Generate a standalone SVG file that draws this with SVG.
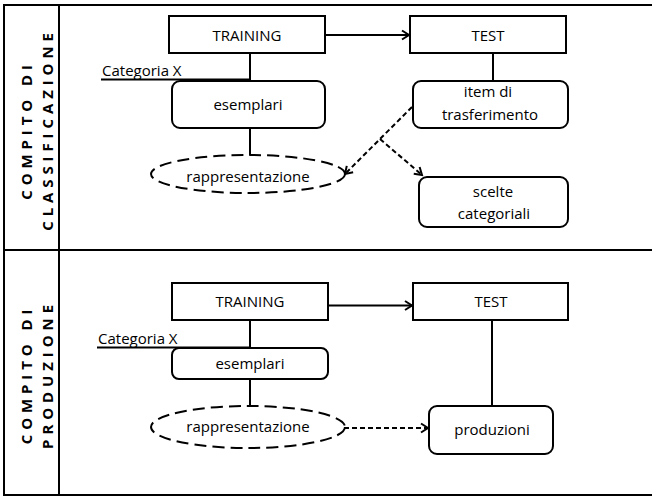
<svg xmlns="http://www.w3.org/2000/svg" width="652" height="497" viewBox="0 0 652 497">
  <style>
    .frame { stroke: #000; stroke-width: 2; fill: none; }
    .box { fill: #fff; stroke: #000; stroke-width: 2; }
    .ell { fill: #fff; stroke: #000; stroke-width: 2; stroke-dasharray: 12 6; }
    .t { font-family: "Open Sans", "Liberation Sans", sans-serif; font-size: 15px; fill: #000; text-anchor: middle; }
    .lab { font-family: "Open Sans", "Liberation Sans", sans-serif; font-size: 15px; fill: #000; }
    .side { font-family: "Open Sans", "Liberation Sans", sans-serif; font-size: 15px; font-weight: bold; letter-spacing: 4.9px; fill: #000; text-anchor: middle; }
    .ln { stroke: #000; stroke-width: 2; fill: none; }
    .dash { stroke: #000; stroke-width: 2; fill: none; stroke-dasharray: 5 3; }
  </style>
  <defs>
    <marker id="arr" markerUnits="userSpaceOnUse" markerWidth="12" markerHeight="12" viewBox="0 0 12 12" refX="10" refY="6" orient="auto">
      <path d="M3,1.5 L10,6 L3,10.5" fill="none" stroke="#000" stroke-width="2"/>
    </marker>
  </defs>
  <rect width="652" height="497" fill="#fff"/>
  <g id="frame">
    <line class="frame" x1="4" y1="5" x2="652" y2="5" stroke-width="3"/>
    <line class="frame" x1="4" y1="4" x2="4" y2="496"/>
    <line class="frame" x1="4" y1="495" x2="652" y2="495"/>
    <line class="frame" x1="4" y1="250" x2="652" y2="250"/>
    <line class="frame" x1="59" y1="5" x2="59" y2="495"/>
  </g>
  <g id="side-labels">
    <text class="side" transform="translate(32,130) rotate(-90)">COMPITO DI</text>
    <text class="side" transform="translate(53,129.5) rotate(-90)">CLASSIFICAZIONE</text>
    <text class="side" transform="translate(32,374.5) rotate(-90)">COMPITO DI</text>
    <text class="side" transform="translate(53,374.5) rotate(-90)">PRODUZIONE</text>
  </g>
  <g id="connectors">
    <line class="ln" x1="325" y1="35" x2="409" y2="35" marker-end="url(#arr)"/>
    <line class="ln" x1="250" y1="53" x2="250" y2="81"/>
    <line class="ln" x1="250" y1="128" x2="250" y2="155"/>
    <line class="ln" x1="493" y1="53" x2="493" y2="81"/>
    <line class="dash" x1="412" y1="107" x2="345" y2="174" marker-end="url(#arr)"/>
    <line class="dash" x1="380" y1="139" x2="422" y2="175" marker-end="url(#arr)"/>
    <line class="ln" x1="328" y1="305.5" x2="412" y2="305.5" marker-end="url(#arr)"/>
    <line class="ln" x1="250" y1="320" x2="250" y2="348"/>
    <line class="ln" x1="250" y1="379" x2="250" y2="406"/>
    <line class="ln" x1="492" y1="320" x2="492" y2="406"/>
    <line class="dash" x1="344" y1="428" x2="428" y2="428" marker-end="url(#arr)"/>
  </g>
  <g id="training1">
    <rect class="box" x="169" y="16" width="156" height="37"/>
    <text class="t" x="247" y="41">TRAINING</text>
  </g>
  <g id="test1">
    <rect class="box" x="410" y="16" width="156" height="37"/>
    <text class="t" x="488" y="41">TEST</text>
  </g>
  <g id="categoria1">
    <text class="lab" x="102" y="76">Categoria X</text>
    <line class="ln" x1="101" y1="79.5" x2="250" y2="79.5" stroke-width="1.2"/>
  </g>
  <g id="esemplari1">
    <rect class="box" x="172" y="81" width="153" height="47" rx="8"/>
    <text class="t" x="248" y="110">esemplari</text>
  </g>
  <g id="rappresentazione1">
    <ellipse class="ell" cx="248" cy="174" rx="97" ry="19"/>
    <text class="t" x="248" y="182">rappresentazione</text>
  </g>
  <g id="item1">
    <rect class="box" x="413" y="81" width="155" height="47" rx="8"/>
    <text class="t" x="488" y="97">item di</text>
    <text class="t" x="490" y="120">trasferimento</text>
  </g>
  <g id="scelte1">
    <rect class="box" x="419" y="177" width="149" height="50" rx="8"/>
    <text class="t" x="493" y="197">scelte</text>
    <text class="t" x="494" y="219">categoriali</text>
  </g>
  <g id="training2">
    <rect class="box" x="172" y="283" width="156" height="37"/>
    <text class="t" x="250" y="307">TRAINING</text>
  </g>
  <g id="test2">
    <rect class="box" x="413" y="283" width="155" height="37"/>
    <text class="t" x="491" y="307">TEST</text>
  </g>
  <g id="categoria2">
    <text class="lab" x="98" y="344">Categoria X</text>
    <line class="ln" x1="97" y1="347.5" x2="250" y2="347.5" stroke-width="1.2"/>
  </g>
  <g id="esemplari2">
    <rect class="box" x="172" y="348" width="156" height="31" rx="7"/>
    <text class="t" x="250" y="369">esemplari</text>
  </g>
  <g id="rappresentazione2">
    <ellipse class="ell" cx="248" cy="427" rx="97" ry="21"/>
    <text class="t" x="248" y="432">rappresentazione</text>
  </g>
  <g id="produzioni2">
    <rect class="box" x="429" y="406" width="124" height="48" rx="8"/>
    <text class="t" x="492" y="435">produzioni</text>
  </g>
</svg>
